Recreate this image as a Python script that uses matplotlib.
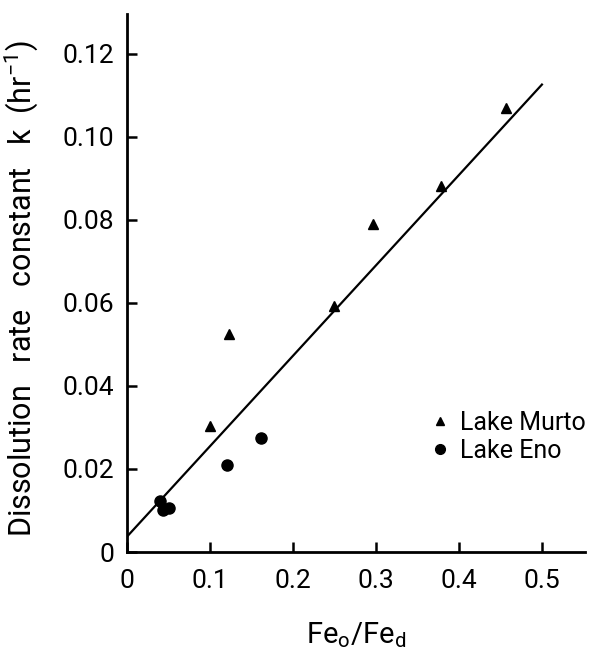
import numpy as np
import matplotlib
matplotlib.use("Agg")
import matplotlib.pyplot as plt
from matplotlib.lines import Line2D

plt.rcParams['font.family'] = ['Roboto', 'DejaVu Sans']
plt.rcParams['mathtext.fontset'] = 'custom'
plt.rcParams['mathtext.rm'] = 'Roboto'
plt.rcParams['mathtext.it'] = 'Roboto'

# Lake Murto (triangles)
murto_x = [0.100, 0.123, 0.249, 0.296, 0.378, 0.457]
murto_k = [0.0304, 0.0525, 0.0592, 0.0790, 0.0882, 0.1070]

# Lake Eno (circles)
eno_x = [0.040, 0.043, 0.051, 0.121, 0.161]
eno_k = [0.0122, 0.0102, 0.0107, 0.0210, 0.0275]

# fitted line end points
fit_x = [0.0, 0.501]
fit_k = [0.0037, 0.1128]

xticks = [0, 0.1, 0.2, 0.3, 0.4, 0.5]
xticklabels = ["0", "0.1", "0.2", "0.3", "0.4", "0.5"]
yticks = [0, 0.02, 0.04, 0.06, 0.08, 0.10, 0.12]
yticklabels = ["0", "0.02", "0.04", "0.06", "0.08", "0.10", "0.12"]

fig = plt.figure(figsize=(6.03, 6.54), dpi=100)
ax = fig.add_axes([127 / 603, 102 / 654, 458 / 603, 538 / 654])

ax.plot(fit_x, fit_k, color="black", lw=1.6, solid_capstyle="butt")
ax.plot(murto_x, murto_k, "^", color="black", ms=7, clip_on=False)
ax.plot(eno_x, eno_k, "o", color="black", ms=8, clip_on=False)

ax.set_xlim(0, 0.552)
ax.set_ylim(0, 0.1296)
ax.set_xticks(xticks)
ax.set_xticklabels(xticklabels)
ax.set_yticks(yticks)
ax.set_yticklabels(yticklabels)

for s in ["top", "right"]:
    ax.spines[s].set_visible(False)
for s in ["left", "bottom"]:
    ax.spines[s].set_linewidth(2)

ax.tick_params(direction="in", length=7, width=1.8, labelsize=19)
ax.tick_params(axis="x", pad=12)
ax.tick_params(axis="y", pad=9)

ax.set_xlabel(r"Fe$_\mathrm{o}$/Fe$_\mathrm{d}$", fontsize=21, labelpad=20)
ax.set_ylabel(r"Dissolution   rate   constant   k  (hr$^{-1}$)", fontsize=22, labelpad=12)
ax.yaxis.set_label_coords(-0.19, 0.49)

handles = [
    Line2D([], [], marker="^", color="black", ls="none", ms=6),
    Line2D([], [], marker="o", color="black", ls="none", ms=7),
]
ax.legend(handles, ["Lake Murto", "Lake Eno"], loc="center left",
          bbox_to_anchor=(430 / 603, 1 - 437 / 654), bbox_transform=fig.transFigure,
          frameon=False, fontsize=18, handlelength=0.8, handletextpad=0.4,
          labelspacing=0.15, borderpad=0, borderaxespad=0)

fig.savefig("out.png", dpi=100)
